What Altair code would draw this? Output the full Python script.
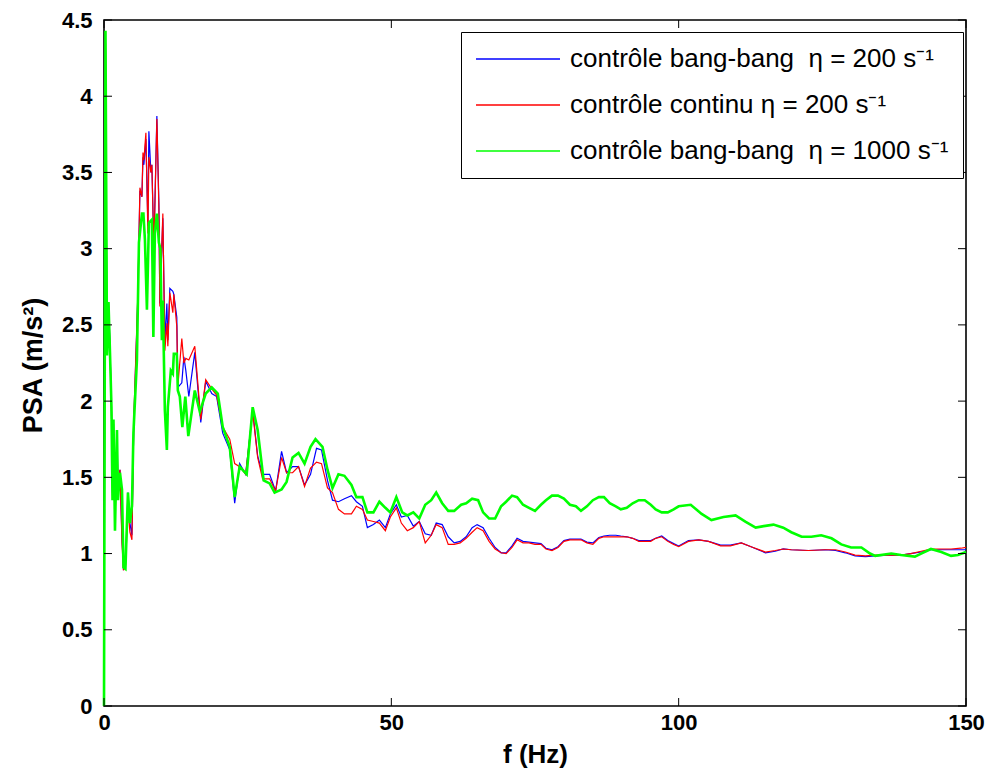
import altair as alt
import pandas as pd

# ---------------- data ----------------
series_names = [
    "contrôle bang-bang\u00a0 η = 200 s⁻¹",
    "contrôle continu η = 200 s⁻¹",
    "contrôle bang-bang\u00a0 η = 1000 s⁻¹",
]
series_colors = ["#0000ff", "#ff0000", "#00ff00"]

freq_200 = [0.00, 0.26, 0.52, 0.78, 1.04, 1.30, 1.48, 1.65, 1.91, 2.26, 2.43, 2.78, 3.13, 3.39, 3.73,
            4.17, 4.51, 4.86, 5.20, 5.90, 6.25, 6.60, 6.78, 6.94, 7.29, 7.64, 7.81, 8.16, 8.33, 8.68,
            9.20, 9.55, 9.72, 10.24, 10.59, 10.94, 11.11, 11.46, 11.98, 12.15, 12.67, 12.85, 13.54,
            13.90, 14.24, 14.76, 15.80, 16.84, 17.70, 18.75, 19.60, 20.66, 21.88, 22.74, 23.61, 24.65,
            25.87, 26.74, 27.60, 28.82, 29.86, 30.90, 31.77, 32.81, 33.85, 34.90, 35.94, 36.98, 37.85,
            38.89, 39.76, 40.80, 41.84, 43.06, 43.92, 44.97, 45.83, 46.88, 47.92, 48.96, 49.83, 50.87,
            51.74, 52.78, 53.82, 54.86, 55.90, 56.94, 57.81, 58.85, 59.90, 60.94, 61.98, 63.02, 64.06,
            64.93, 65.97, 67.01, 68.06, 69.10, 69.97, 71.00, 71.88, 72.92, 73.96, 75.00, 76.04, 76.90,
            77.95, 79.00, 80.03, 81.08, 82.12, 83.00, 84.03, 85.07, 86.11, 87.00, 88.00, 89.06, 89.93,
            90.97, 92.00, 93.06, 94.10, 95.14, 96.00, 97.05, 98.10, 99.13, 100.0, 101.7, 103.5, 105.2,
            107.3, 109.0, 110.9, 112.6, 115.1, 116.8, 118.2, 119.6, 122.6, 125.5, 127.3, 129.0, 130.7,
            132.5, 134.2, 136.5, 138.7, 140.4, 142.2, 143.9, 145.7, 147.4, 149.1, 150.0]

psa_bang_200 = [0.00, 4.30, 2.35, 2.65, 2.38, 1.93, 1.40, 1.85, 1.20, 1.80, 1.45, 1.55, 1.10, 0.90, 0.92,
                1.40, 1.20, 1.12, 1.88, 2.70, 3.38, 3.34, 3.60, 3.55, 3.72, 3.15, 3.77, 3.50, 3.55, 3.00,
                3.87, 3.30, 2.64, 3.20, 2.40, 2.64, 2.40, 2.74, 2.72, 2.70, 2.55, 2.09, 2.12,
                2.29, 2.20, 2.03, 2.32, 1.86, 2.13, 2.05, 2.03, 1.79, 1.68, 1.33, 1.59, 1.52,
                1.94, 1.64, 1.52, 1.52, 1.41, 1.67, 1.53, 1.57, 1.57, 1.45, 1.52, 1.69, 1.68,
                1.48, 1.35, 1.34, 1.36, 1.38, 1.34, 1.31, 1.17, 1.19, 1.22, 1.17, 1.26, 1.32,
                1.24, 1.25, 1.18, 1.21, 1.13, 1.12, 1.20, 1.19, 1.11, 1.07, 1.08, 1.11, 1.17,
                1.19, 1.17, 1.10, 1.04, 1.005, 1.005, 1.05, 1.10, 1.08, 1.075, 1.07, 1.065, 1.035,
                1.025, 1.045, 1.085, 1.095, 1.095, 1.095, 1.075, 1.07, 1.105, 1.115, 1.12, 1.12, 1.115,
                1.11, 1.10, 1.085, 1.085, 1.085, 1.10, 1.115, 1.085, 1.065, 1.05, 1.085, 1.09, 1.08,
                1.055, 1.055, 1.07, 1.045, 1.005, 1.015, 1.03, 1.025, 1.02, 1.025, 1.02, 1.005, 0.985,
                0.98, 0.985, 0.99, 0.99, 1.00, 1.01, 1.025, 1.025, 1.025, 1.025, 1.025]

psa_cont_200 = [0.00, 4.35, 2.32, 2.62, 2.35, 1.93, 1.38, 1.85, 1.18, 1.78, 1.38, 1.55, 1.07, 0.89, 0.92,
                1.30, 1.14, 1.09, 1.90, 2.71, 3.40, 3.34, 3.63, 3.58, 3.76, 3.10, 3.60, 3.50, 3.55, 2.99,
                3.85, 3.27, 2.62, 3.23, 2.33, 2.51, 2.36, 2.71, 2.58, 2.70, 2.49, 2.10, 2.41,
                2.25, 2.28, 2.27, 2.36, 1.88, 2.14, 2.08, 2.04, 1.83, 1.75, 1.59, 1.57, 1.52,
                1.93, 1.63, 1.49, 1.49, 1.41, 1.63, 1.53, 1.53, 1.57, 1.44, 1.56, 1.60, 1.59,
                1.43, 1.40, 1.29, 1.26, 1.26, 1.31, 1.29, 1.22, 1.21, 1.20, 1.15, 1.24, 1.30,
                1.20, 1.15, 1.17, 1.21, 1.07, 1.12, 1.19, 1.17, 1.06, 1.06, 1.07, 1.10, 1.14,
                1.17, 1.15, 1.08, 1.03, 1.005, 1.00, 1.04, 1.09, 1.07, 1.07, 1.06, 1.06, 1.03,
                1.02, 1.04, 1.08, 1.09, 1.09, 1.09, 1.07, 1.06, 1.10, 1.11, 1.11, 1.11, 1.11,
                1.11, 1.10, 1.08, 1.08, 1.08, 1.10, 1.11, 1.08, 1.06, 1.045, 1.08, 1.09, 1.08,
                1.05, 1.05, 1.07, 1.045, 1.01, 1.02, 1.03, 1.025, 1.02, 1.025, 1.025, 1.01, 0.99,
                0.985, 0.99, 0.99, 0.99, 1.00, 1.015, 1.03, 1.03, 1.03, 1.035, 1.04]

freq_1000 = [0.00, 0.26, 0.52, 0.78, 1.04, 1.30, 1.48, 1.65, 1.91, 2.26, 2.43, 2.78, 3.13, 3.39, 3.73,
             4.17, 4.51, 4.86, 5.12, 5.73, 6.08, 6.60, 6.86, 7.12, 7.47, 7.81, 8.33, 8.59, 8.85, 9.20,
             9.55, 9.81, 10.07, 10.24, 10.59, 10.94, 11.11, 11.63, 11.98, 12.15, 12.67, 12.85, 13.19,
             13.63, 14.15, 14.67, 15.80, 16.67, 17.70, 18.75, 19.80, 20.66, 21.88, 22.74, 23.61, 24.83,
             25.87, 26.74, 27.78, 28.82, 29.69, 30.90, 31.77, 32.81, 33.85, 34.90, 35.94, 36.80, 38.02,
             38.89, 39.76, 40.80, 41.84, 43.06, 43.92, 44.97, 45.83, 46.88, 47.92, 48.96, 49.83, 50.87,
             51.90, 52.78, 53.82, 54.86, 55.90, 56.94, 57.81, 58.85, 59.90, 60.94, 62.15, 63.02, 64.06,
             65.10, 65.97, 67.01, 68.06, 69.10, 69.97, 71.00, 71.88, 72.92, 73.96, 75.00, 76.04, 76.90,
             77.95, 79.00, 80.03, 81.08, 82.12, 83.00, 84.03, 85.07, 86.11, 87.00, 88.00, 89.06, 89.93,
             90.97, 92.00, 93.06, 94.10, 95.14, 96.00, 97.05, 98.10, 99.13, 100.0, 102.1, 104.0, 105.7,
             107.8, 109.9, 111.6, 113.4, 114.8, 116.5, 118.2, 119.6, 121.4, 123.1, 124.8, 126.6, 128.3,
             130.0, 131.8, 133.3, 134.2, 137.0, 138.7, 141.1, 142.2, 143.9, 145.7, 147.4, 148.6, 150.0]

psa_bang_1000 = [0.00, 4.43, 2.30, 2.65, 2.32, 1.96, 1.35, 1.88, 1.15, 1.81, 1.35, 1.53, 1.42, 0.91, 0.90,
                 1.40, 1.20, 1.31, 1.79, 2.27, 3.04, 3.23, 3.23, 3.06, 2.60, 3.17, 3.19, 2.42, 3.10, 3.23,
                 3.04, 3.00, 2.40, 2.66, 1.94, 1.68, 1.96, 2.20, 2.18, 2.31, 2.31, 2.07, 2.03,
                 1.83, 2.03, 1.77, 2.07, 1.93, 2.05, 2.09, 2.05, 1.83, 1.70, 1.37, 1.57, 1.52,
                 1.96, 1.81, 1.48, 1.46, 1.40, 1.42, 1.47, 1.63, 1.66, 1.59, 1.70, 1.75, 1.70,
                 1.55, 1.43, 1.52, 1.51, 1.45, 1.37, 1.37, 1.27, 1.27, 1.34, 1.30, 1.27, 1.37,
                 1.27, 1.25, 1.27, 1.23, 1.32, 1.35, 1.40, 1.33, 1.28, 1.28, 1.32, 1.33, 1.36,
                 1.35, 1.27, 1.23, 1.23, 1.31, 1.34, 1.38, 1.37, 1.32, 1.30, 1.28, 1.32, 1.35,
                 1.38, 1.38, 1.36, 1.32, 1.31, 1.28, 1.31, 1.35, 1.37, 1.37, 1.33, 1.31, 1.29,
                 1.30, 1.33, 1.35, 1.35, 1.32, 1.29, 1.27, 1.27, 1.29, 1.31, 1.32, 1.26, 1.22,
                 1.24, 1.25, 1.21, 1.17, 1.18, 1.19, 1.17, 1.14, 1.11, 1.11, 1.12, 1.10, 1.06,
                 1.04, 1.04, 1.00, 0.985, 1.00, 0.99, 0.98, 1.00, 1.03, 1.01, 0.985, 0.99, 1.01]

x_ticks = [0, 50, 100, 150]
y_ticks = [0, 0.5, 1, 1.5, 2, 2.5, 3, 3.5, 4, 4.5]

assert len(freq_200) == len(psa_bang_200) == len(psa_cont_200)
assert len(freq_1000) == len(psa_bang_1000)

# ---------------- chart ----------------
W, H = 862, 686
FONT = "Liberation Sans"
TICK = 8

df_b200 = pd.DataFrame({"f": freq_200, "psa": psa_bang_200, "series": series_names[0]})
df_c200 = pd.DataFrame({"f": freq_200, "psa": psa_cont_200, "series": series_names[1]})
df_b1000 = pd.DataFrame({"f": freq_1000, "psa": psa_bang_1000, "series": series_names[2]})

xs = alt.Scale(domain=[0, 150], nice=False, zero=False)
ys = alt.Scale(domain=[0, 4.5], nice=False)

x_axis = alt.Axis(values=x_ticks, ticks=False, grid=False, domain=False,
                  labelFont=FONT, labelFontSize=22, labelFontWeight="bold", labelColor="black",
                  labelPadding=6, labelFlush=False, labelOverlap=False,
                  title="f (Hz)", titleFont=FONT, titleFontSize=26, titleFontWeight="bold",
                  titleColor="black", titleX=W / 2, titleY=48, titleBaseline="middle")
y_axis = alt.Axis(values=y_ticks, ticks=False, grid=False, domain=False, format="~g",
                  labelFont=FONT, labelFontSize=22, labelFontWeight="bold", labelColor="black",
                  labelPadding=12, labelFlush=False, labelOverlap=False,
                  title="PSA (m/s²)", titleFont=FONT, titleFontSize=27, titleFontWeight="bold",
                  titleColor="black", titleX=-71, titleY=H / 2 + 2, titleBaseline="middle",
                  titleAngle=270)

legend = alt.Legend(title=None, orient="none", legendX=357, legendY=12,
                    symbolType="M-4,0H4", symbolSize=441, symbolStrokeWidth=1.6,
                    symbolOffset=30, labelOffset=39,
                    labelFont=FONT, labelFontSize=26, labelColor="black", labelLimit=0,
                    rowPadding=20, padding=14, strokeColor="black", fillColor="white",
                    cornerRadius=0)

color = alt.Color("series:N", scale=alt.Scale(domain=series_names, range=series_colors),
                  legend=legend)

X = alt.X("f:Q", scale=xs, axis=x_axis)
Y = alt.Y("psa:Q", scale=ys, axis=y_axis)

l_blue = alt.Chart(df_b200).mark_line(strokeWidth=1.2).encode(x=X, y=Y, color=color)
l_red = alt.Chart(df_c200).mark_line(strokeWidth=1.2).encode(x=X, y=Y, color=color)
l_green = alt.Chart(df_b1000).mark_line(strokeWidth=2.6).encode(x=X, y=Y, color=color)

xt = pd.DataFrame({"f": x_ticks})
yt = pd.DataFrame({"psa": y_ticks})
tick_bottom = alt.Chart(xt).mark_rule(color="black", strokeWidth=1).encode(
    x=X, y=alt.value(H), y2=alt.value(H - TICK))
tick_top = alt.Chart(xt).mark_rule(color="black", strokeWidth=1).encode(
    x=X, y=alt.value(0), y2=alt.value(TICK))
tick_left = alt.Chart(yt).mark_rule(color="black", strokeWidth=1).encode(
    y=Y, x=alt.value(0), x2=alt.value(TICK))
tick_right = alt.Chart(yt).mark_rule(color="black", strokeWidth=1).encode(
    y=Y, x=alt.value(W), x2=alt.value(W - TICK))

chart = alt.layer(
    l_blue, l_red, l_green, tick_bottom, tick_top, tick_left, tick_right
).properties(
    width=W, height=H,
    autosize=alt.AutoSizeParams(type="none"),
    padding={"left": 96, "top": 12, "right": 19, "bottom": 62},
).configure(
    font=FONT, background="white"
).configure_view(
    stroke="black", strokeWidth=1.6
)

chart.save("out.html", embed_options={"renderer": "svg", "actions": False})
